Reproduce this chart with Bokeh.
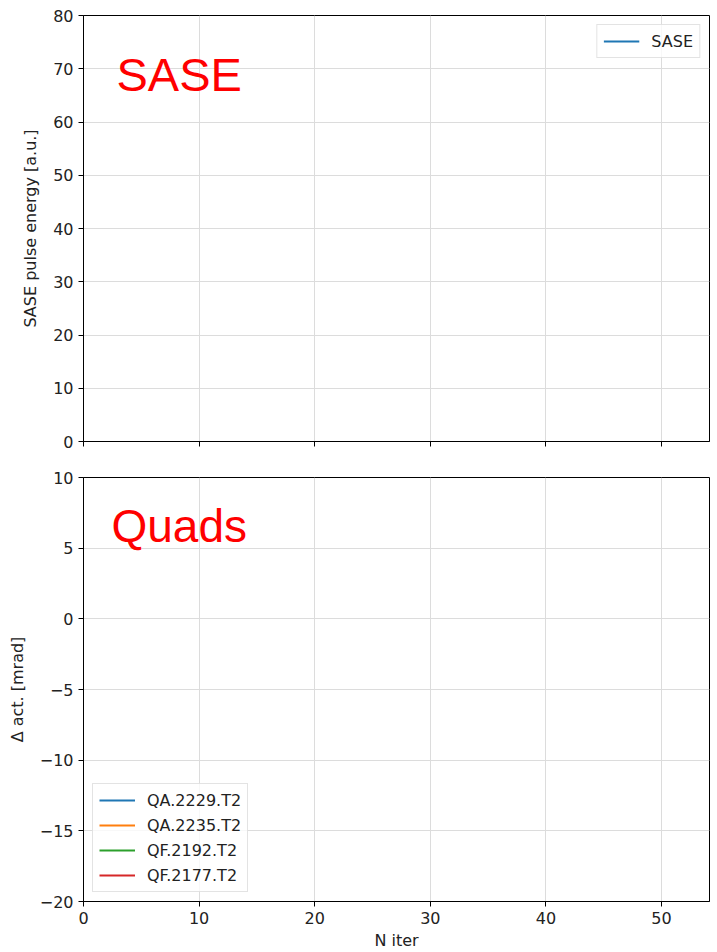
from bokeh.plotting import figure
from bokeh.layouts import column
from bokeh.models import Range1d, SingleIntervalTicker, Label
from bokeh.embed import file_html
from bokeh.resources import INLINE

NaN = float("nan")

# ---- data (the reference panels show no plotted values) ----
x_range_max = 54.15
x_ticks = [0, 10, 20, 30, 40, 50]
top_y_min, top_y_max, top_y_interval = 0, 80, 10
bot_y_min, bot_y_max, bot_y_interval = -20, 10, 5

sase_name = "SASE"
sase_x = [NaN]
sase_y = [NaN]

quad_names = ["QA.2229.T2", "QA.2235.T2", "QF.2192.T2", "QF.2177.T2"]
quad_colors = ["#1f77b4", "#ff7f0e", "#2ca02c", "#d62728"]
quad_x = [[NaN], [NaN], [NaN], [NaN]]
quad_y = [[NaN], [NaN], [NaN], [NaN]]

top_ylabel = "SASE pulse energy [a.u.]"
bot_ylabel = "\u0394 act. [mrad]"
xlabel = "N iter"
top_note = "SASE"
bot_note = "Quads"

FONT = "DejaVu Sans"
TXT = "#222222"


def style(p):
    p.outline_line_color = "black"
    p.outline_line_width = 1
    for ax in p.axis:
        ax.axis_line_color = "black"
        ax.major_tick_line_color = "black"
        ax.major_tick_out = 5
        ax.major_tick_in = 0
        ax.minor_tick_line_color = None
        ax.major_label_text_font = FONT
        ax.major_label_text_font_size = "16px"
        ax.major_label_text_color = TXT
        ax.axis_label_text_font = FONT
        ax.axis_label_text_font_size = "16px"
        ax.axis_label_text_font_style = "normal"
        ax.axis_label_text_color = TXT
        ax.major_label_standoff = 5
    for g in p.grid:
        g.grid_line_color = "#dcdcdc"
        g.grid_line_width = 1
    p.background_fill_color = "white"
    p.border_fill_color = "white"


def style_legend(lg):
    lg.label_text_font = FONT
    lg.label_text_font_size = "16px"
    lg.label_text_color = TXT
    lg.glyph_width = 36
    lg.glyph_height = 20
    lg.label_height = 20
    lg.label_standoff = 12
    lg.spacing = 5
    lg.padding = 6
    lg.margin = 9
    lg.border_line_color = "#c8c8c8"
    lg.border_line_width = 1
    lg.background_fill_color = "white"
    lg.background_fill_alpha = 0.8


def minus_overrides(lo, hi, step):
    d = {}
    v = lo
    while v <= hi:
        if v < 0:
            d[v] = "\u2212" + str(abs(v))
        v += step
    return d


# ---- top panel ----
p1 = figure(width=717, height=461, title=None, toolbar_location=None,
            output_backend="svg",
            x_range=Range1d(0, x_range_max), y_range=Range1d(top_y_min, top_y_max),
            min_border_left=83, min_border_right=8, min_border_top=15, min_border_bottom=20)
p1.line(sase_x, sase_y, line_color=quad_colors[0], line_width=2, legend_label=sase_name)
p1.xaxis.ticker = x_ticks
p1.yaxis.ticker = SingleIntervalTicker(interval=top_y_interval)
p1.yaxis.axis_label = top_ylabel
style(p1)
p1.xaxis.major_label_text_font_size = "0px"
p1.xaxis.major_label_overrides = {t: "" for t in x_ticks}
p1.xaxis.major_label_standoff = 0
p1.yaxis.axis_label_standoff = 10
p1.legend.location = "top_right"
style_legend(p1.legend[0])
p1.add_layout(Label(x=2.85, y=69.0, text=top_note, text_color="red",
                    text_font="Liberation Sans", text_font_size="47px",
                    text_baseline="alphabetic"))

# ---- bottom panel ----
p2 = figure(width=717, height=491, title=None, toolbar_location=None,
            output_backend="svg",
            x_range=p1.x_range, y_range=Range1d(bot_y_min, bot_y_max),
            min_border_left=83, min_border_right=8, min_border_top=16, min_border_bottom=50)
for name, col, xs, ys in zip(quad_names, quad_colors, quad_x, quad_y):
    p2.line(xs, ys, line_color=col, line_width=2, legend_label=name)
p2.xaxis.ticker = x_ticks
p2.yaxis.ticker = SingleIntervalTicker(interval=bot_y_interval)
p2.yaxis.axis_label = bot_ylabel
p2.xaxis.axis_label = xlabel
style(p2)
p2.yaxis.major_label_overrides = minus_overrides(bot_y_min, bot_y_max, bot_y_interval)
p2.yaxis.axis_label_standoff = 10
p2.xaxis.axis_label_standoff = 4
p2.legend.location = "bottom_left"
style_legend(p2.legend[0])
p2.add_layout(Label(x=2.42, y=6.6, text=bot_note, text_color="red",
                    text_font="Liberation Sans", text_font_size="46px",
                    text_baseline="alphabetic"))

layout = column(p1, p2, spacing=0)
open("out.html", "w").write(file_html(layout, INLINE))
